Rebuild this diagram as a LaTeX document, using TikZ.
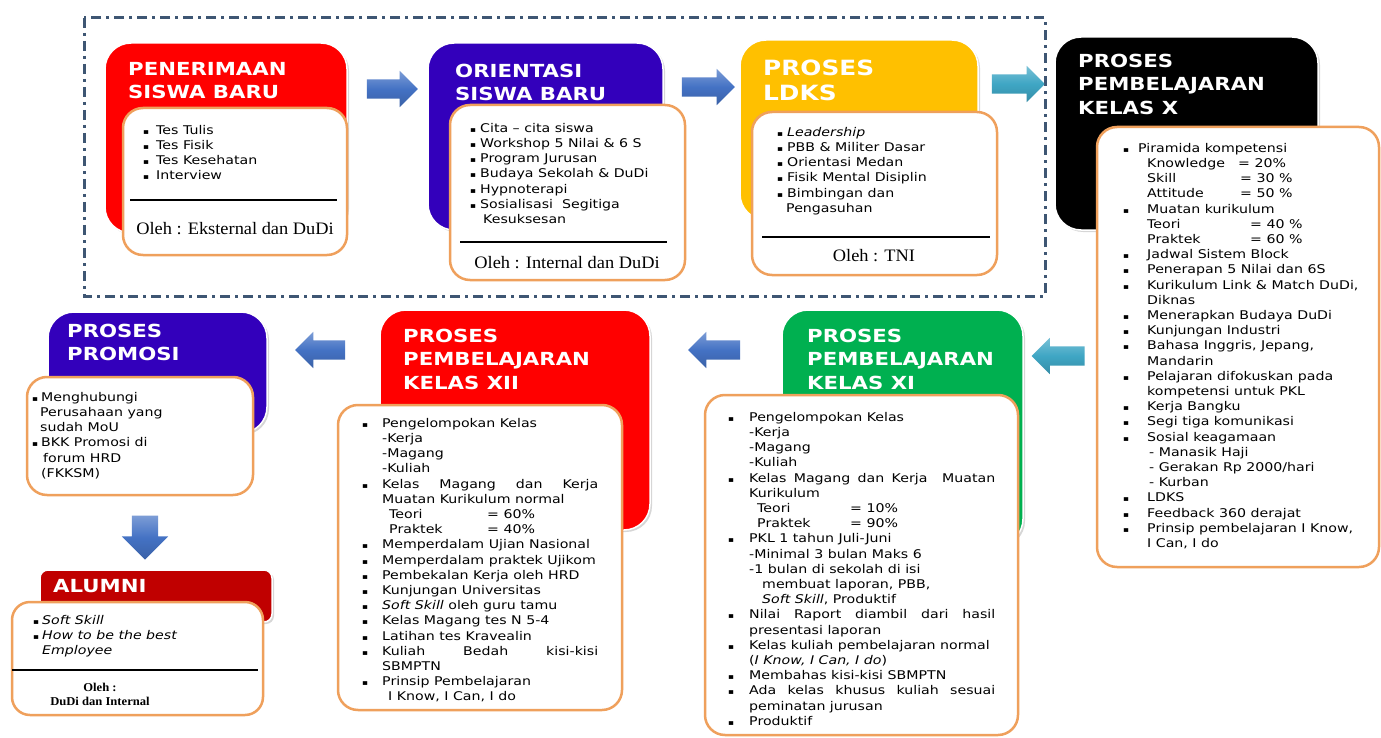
\documentclass[tikz,border=0pt]{standalone}
\usepackage{fontspec}
\setmainfont{DejaVu Sans}[FakeStretch=1.18]
\newfontfamily\olehfont{Liberation Serif}[FakeStretch=1.05]
\usetikzlibrary{shapes.arrows,shadows}
\definecolor{cRed}{HTML}{FF0000}
\definecolor{cIndigo}{HTML}{3300BB}
\definecolor{cAmber}{HTML}{FFC000}
\definecolor{cGreen}{HTML}{00B050}
\definecolor{cDarkRed}{HTML}{C00000}
\definecolor{cOrange}{HTML}{EFA05C}
\definecolor{cFrame}{HTML}{3E5673}
\definecolor{cBlue}{HTML}{4472C4}
\definecolor{cTeal}{HTML}{3FA6C4}
\newcommand\bul{{\fontsize{7.5}{7.5}\selectfont\symbol{"25AA}}}
\newcommand\BB[1]{\makebox[#1][l]{\bul}}
\newcommand\II[1]{\hspace*{#1}}
\newcommand\fl{\rule{0pt}{10pt}}
\begin{document}
\begin{tikzpicture}[x=1pt,y=-1pt,
  cbox/.style={draw=white, line width=1.5pt, rounded corners=26pt, inner sep=0pt,
    drop shadow={shadow xshift=2pt, shadow yshift=-2pt, opacity=0.35, fill=black!45}},
  wbox/.style={draw=cOrange, fill=white, line width=2.5pt, rounded corners=20pt, inner sep=0pt},
  title/.style={anchor=north west, inner sep=0pt, align=left, text=white,
    font=\fontsize{18}{23.5}\selectfont\bfseries},
  titleL/.style={title, font=\fontsize{21}{25}\selectfont\bfseries},
  body/.style={anchor=north west, inner sep=0pt, align=left,
    font=\fontsize{12}{15.2}\selectfont},
  oleh/.style={inner sep=0pt, font=\olehfont\fontsize{17.5}{20}\selectfont},
  sep/.style={draw=black, line width=1.1pt},
  barrow/.style={single arrow, single arrow head extend=8.5pt, inner sep=9.5pt,
    minimum width=36pt, draw=none},
  blueA/.style={top color=cBlue!70!white, bottom color=cBlue!85!black, middle color=cBlue},
  tealA/.style={top color=cTeal!70!white, bottom color=cTeal!85!black, middle color=cTeal},
  frame/.style={draw=cFrame, line width=3pt, dash pattern=on 10pt off 5pt on 3pt off 5pt}
]
\useasboundingbox (0,0) rectangle (1381,738);
\fill[white] (0,0) rectangle (1381,738);

% frame
\coordinate (f1) at (84,18);
\coordinate (f2) at (1045,296);
\draw[frame] (f1) rectangle (f2);

% coloured boxes
\node[cbox, fill=cRed, minimum width=242pt, minimum height=190pt] (b1) at (226,138) {};
\node[cbox, fill=cIndigo, minimum width=235pt, minimum height=187pt] (b2) at (545.5,136.5) {};
\node[cbox, fill=cAmber, minimum width=238pt, minimum height=180pt] (b3) at (859,130) {};
\node[cbox, fill=black, minimum width=263pt, minimum height=193pt] (b4) at (1186.5,133.5) {};
\node[cbox, fill=cIndigo, minimum width=219pt, minimum height=121pt] (bp) at (157.5,372.5) {};
\node[cbox, fill=cRed, minimum width=270pt, minimum height=220pt] (b12) at (515,420) {};
\node[cbox, fill=cGreen, minimum width=241pt, minimum height=235pt] (b11) at (902.5,427.5) {};
\node[cbox, fill=cDarkRed, rounded corners=8pt, minimum width=232pt, minimum height=52pt] (ba) at (156,596) {};

% titles
\node[title] (t1) at (128,61) {\rule{0pt}{14pt}PENERIMAAN\\SISWA BARU};
\node[title] (t2) at (455,63) {\rule{0pt}{14pt}ORIENTASI\\SISWA BARU};
\node[titleL] (t3) at (763,59) {\rule{0pt}{16pt}PROSES\\LDKS};
\node[title] (t4) at (1078,53) {\rule{0pt}{14pt}PROSES\\PEMBELAJARAN\\KELAS X};
\node[title] (tp) at (67,323) {\rule{0pt}{14pt}PROSES\\PROMOSI};
\node[title] (t12) at (403,328) {\rule{0pt}{14pt}PROSES\\PEMBELAJARAN\\KELAS XII};
\node[title] (t11) at (807,328) {\rule{0pt}{14pt}PROSES\\PEMBELAJARAN\\KELAS XI};
\node[title] (ta) at (53,578) {\rule{0pt}{14pt}ALUMNI};

% white boxes
\node[wbox, minimum width=224pt, minimum height=147pt] (w1) at (235,181.5) {};
\node[wbox, minimum width=235pt, minimum height=175pt] (w2) at (567.5,192.5) {};
\node[wbox, minimum width=245pt, minimum height=163pt] (w3) at (874.5,193.5) {};
\node[wbox, minimum width=282pt, minimum height=440pt] (w4) at (1238,347) {};
\node[wbox, minimum width=226pt, minimum height=118pt] (wp) at (140,436) {};
\node[wbox, minimum width=284pt, minimum height=305pt] (w12) at (480,557.5) {};
\node[wbox, minimum width=313pt, minimum height=340pt] (w11) at (861.5,565) {};
\node[wbox, rounded corners=18pt, minimum width=251pt, minimum height=113pt] (wa) at (137.5,658.5) {};

% body texts
\node[body] (x1) at (143,124) {\fl\BB{13pt}Tes Tulis\\\BB{13pt}Tes Fisik\\\BB{13pt}Tes Kesehatan\\\BB{13pt}Interview};
\node[body] (x2) at (470,122) {\fl\BB{10pt}Cita – cita siswa\\\BB{10pt}Workshop 5 Nilai \& 6 S\\\BB{10pt}Program Jurusan\\\BB{10pt}Budaya Sekolah \& DuDi\\\BB{10pt}Hypnoterapi\\\BB{10pt}Sosialisasi\ \ Segitiga\\\II{13pt}Kesuksesan};
\node[body] (x3) at (777,126) {\fl\BB{10pt}\textit{Leadership}\\\BB{10pt}PBB \& Militer Dasar\\\BB{10pt}Orientasi Medan\\\BB{10pt}Fisik Mental Disiplin\\\BB{10pt}Bimbingan dan\\\II{9pt}Pengasuhan};
\node[body] (x4) at (1123,142) {\fl\BB{15pt}Piramida kompetensi\\
\II{24pt}\makebox[91pt][l]{Knowledge}= 20\%\\
\II{24pt}\makebox[93pt][l]{Skill}= 30 \%\\
\II{24pt}\makebox[93pt][l]{Attitude}= 50 \%\\
\BB{24pt}Muatan kurikulum\\
\II{24pt}\makebox[103pt][l]{Teori}= 40 \%\\
\II{24pt}\makebox[103pt][l]{Praktek}= 60 \%\\
\BB{24pt}Jadwal Sistem Block\\
\BB{24pt}Penerapan 5 Nilai dan 6S\\
\BB{24pt}Kurikulum Link \& Match DuDi,\\
\II{24pt}Diknas\\
\BB{24pt}Menerapkan Budaya DuDi\\
\BB{24pt}Kunjungan Industri\\
\BB{24pt}Bahasa Inggris, Jepang,\\
\II{24pt}Mandarin\\
\BB{24pt}Pelajaran difokuskan pada\\
\II{24pt}kompetensi untuk PKL\\
\BB{24pt}Kerja Bangku\\
\BB{24pt}Segi tiga komunikasi\\
\BB{24pt}Sosial keagamaan\\
\II{26pt}- Manasik Haji\\
\II{26pt}- Gerakan Rp 2000/hari\\
\II{26pt}- Kurban\\
\BB{24pt}LDKS\\
\BB{24pt}Feedback 360 derajat\\
\BB{24pt}Prinsip pembelajaran I Know,\\
\II{24pt}I Can, I do};
\node[body] (xp) at (32,391) {\fl\BB{9pt}Menghubungi\\\II{8pt}Perusahaan yang\\\II{8pt}sudah MoU\\\BB{9pt}BKK Promosi di\\\II{11pt}forum HRD\\\II{9pt}(FKKSM)};
\node[body] (x12) at (362,417) {\fl\BB{20pt}Pengelompokan Kelas\\
\II{20pt}-Kerja\\
\II{20pt}-Magang\\
\II{20pt}-Kuliah\\
\BB{20pt}\makebox[216pt][s]{Kelas Magang dan Kerja}\\
\II{20pt}Muatan Kurikulum normal\\
\II{27pt}\makebox[98pt][l]{Teori}= 60\%\\
\II{27pt}\makebox[98pt][l]{Praktek}= 40\%\\
\BB{20pt}Memperdalam Ujian Nasional\\
\BB{20pt}Memperdalam praktek Ujikom\\
\BB{20pt}Pembekalan Kerja oleh HRD\\
\BB{20pt}Kunjungan Universitas\\
\BB{20pt}\textit{Soft Skill} oleh guru tamu\\
\BB{20pt}Kelas Magang tes N 5-4\\
\BB{20pt}Latihan tes Kravealin\\
\BB{20pt}\makebox[216pt][s]{Kuliah Bedah kisi-kisi}\\
\II{20pt}SBMPTN\\
\BB{20pt}Prinsip Pembelajaran\\
\II{26pt}I Know, I Can, I do};
\node[body] (x11) at (728,411) {\fl\BB{21pt}Pengelompokan Kelas\\
\II{21pt}-Kerja\\
\II{21pt}-Magang\\
\II{21pt}-Kuliah\\
\BB{21pt}\makebox[246pt][s]{Kelas Magang dan Kerja\ \ Muatan}\\
\II{21pt}Kurikulum\\
\II{29pt}\makebox[93pt][l]{Teori}= 10\%\\
\II{29pt}\makebox[93pt][l]{Praktek}= 90\%\\
\BB{21pt}PKL 1 tahun Juli-Juni\\
\II{21pt}-Minimal 3 bulan Maks 6\\
\II{21pt}-1 bulan di sekolah di isi\\
\II{34pt}membuat laporan, PBB,\\
\II{34pt}\textit{Soft Skill}, Produktif\\
\BB{21pt}\makebox[246pt][s]{Nilai Raport diambil dari hasil}\\
\II{21pt}presentasi laporan\\
\BB{21pt}Kelas kuliah pembelajaran normal\\
\II{21pt}(\textit{I Know, I Can, I do})\\
\BB{21pt}Membahas kisi-kisi SBMPTN\\
\BB{21pt}\makebox[246pt][s]{Ada kelas khusus kuliah sesuai}\\
\II{21pt}peminatan jurusan\\
\BB{21pt}Produktif};
\node[body] (xa) at (33,614) {\fl\BB{9pt}\textit{Soft Skill}\\\BB{9pt}\textit{How to be the best}\\\II{9pt}\textit{Employee}};

% separators
\coordinate (s1a) at (130,200); \coordinate (s1b) at (337,200);
\coordinate (s2a) at (460,242); \coordinate (s2b) at (667,242);
\coordinate (s3a) at (762,237); \coordinate (s3b) at (990,237);
\coordinate (s4a) at (12,670); \coordinate (s4b) at (258,670);
\draw[sep] (s1a) -- (s1b);
\draw[sep] (s2a) -- (s2b);
\draw[sep] (s3a) -- (s3b);
\draw[sep] (s4a) -- (s4b);

% oleh texts
\node[oleh] (o1) at (235,229) {Oleh : Eksternal dan DuDi};
\node[oleh] (o2) at (567,263) {Oleh : Internal dan DuDi};
\node[oleh] (o3) at (874,256) {Oleh : TNI};
\node[inner sep=0pt, align=center, font=\olehfont\fontsize{12}{14}\selectfont\bfseries] (oa) at (100,694) {Oleh :\\DuDi dan Internal};

% arrows
\node[barrow, blueA, minimum height=51pt] (a1) at (387.5,89) {};
\node[barrow, blueA, minimum height=53pt] (a2) at (703.5,87) {};
\node[barrow, tealA, minimum height=53pt] (a3) at (1013.5,84) {};
\node[barrow, tealA, minimum height=53pt, shape border rotate=180] (a4) at (1063,356) {};
\node[barrow, blueA, minimum height=52pt, shape border rotate=180] (a5) at (719,350) {};
\node[barrow, blueA, minimum height=50pt, shape border rotate=180] (a6) at (325,350) {};
\node[barrow, blueA, minimum height=44pt, inner sep=13pt, minimum width=46pt, single arrow head extend=10pt, shape border rotate=270] (a7) at (145,531) {};
\end{tikzpicture}
\end{document}
